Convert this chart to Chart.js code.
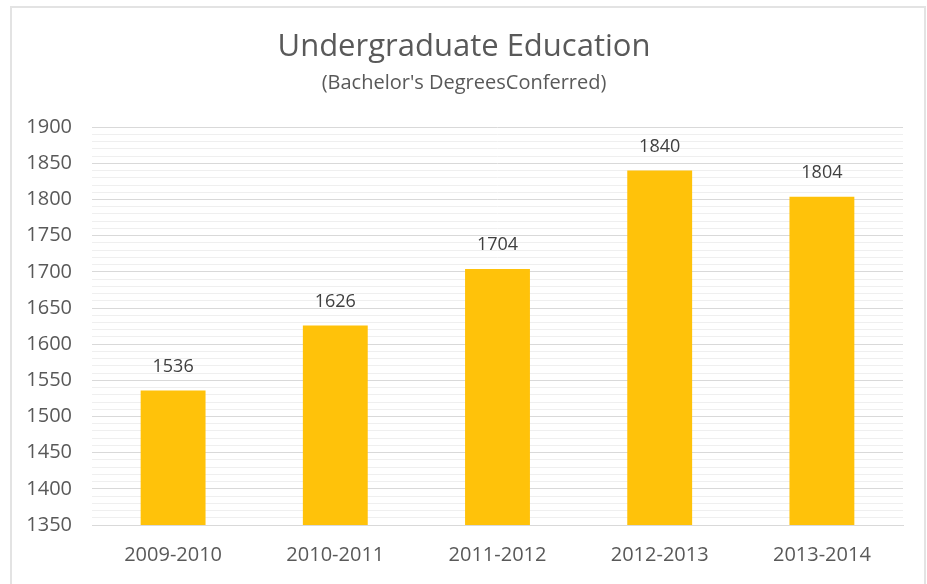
<!DOCTYPE html>
<html>
<head>
<meta charset="utf-8">
<script src="https://cdn.jsdelivr.net/npm/chart.js@4/dist/chart.umd.min.js"></script>
<style>
    html, body { margin: 0; padding: 0; background: #ffffff; }
    #wrap { position: relative; width: 927px; height: 584px; overflow: hidden; }
    #frame {
        position: absolute; left: 10px; top: 6px; width: 916px; height: 600px;
        border: 2px solid #e3e3e3; box-sizing: border-box;
    }
    #chart { position: absolute; left: 0; top: 0; }
</style>
</head>
<body>
<div id="wrap">
    <div id="frame"></div>
    <canvas id="chart" width="927" height="584"></canvas>
</div>
<script>
const years = ['2009-2010', '2010-2011', '2011-2012', '2012-2013', '2013-2014'];
const degrees = [1536, 1626, 1704, 1840, 1804];
const yMin = 1350;
const yMax = 1900;

const fontFamily = "'Open Sans', 'Liberation Sans', sans-serif";

// Draw the numbers above each bar
const valueLabels = {
    id: 'valueLabels',
    afterDatasetsDraw(chart) {
        const ctx = chart.ctx;
        const meta = chart.getDatasetMeta(0);
        ctx.save();
        ctx.fillStyle = '#404040';
        ctx.font = '18px ' + fontFamily;
        ctx.textAlign = 'center';
        ctx.textBaseline = 'middle';
        meta.data.forEach((bar, i) => {
            ctx.fillText(String(degrees[i]), bar.x, bar.y - 24);
        });
        ctx.restore();
    }
};

const ctx = document.getElementById('chart').getContext('2d');

const chart = new Chart(ctx, {
    type: 'bar',
    data: {
        labels: years,
        datasets: [{
            label: "Bachelor's Degrees Conferred",
            data: degrees,
            backgroundColor: '#FFC20A',
            borderWidth: 0,
            barPercentage: 0.4,
            categoryPercentage: 1.0
        }]
    },
    options: {
        responsive: false,
        animation: false,
        layout: {
            padding: { left: 25, right: 24, top: 0, bottom: 0 }
        },
        scales: {
            x: {
                grid: { display: false },
                border: { display: true, color: '#d9d9d9', width: 1 },
                ticks: {
                    color: '#595959',
                    font: { size: 20, family: fontFamily },
                    padding: 10,
                    maxRotation: 0
                },
                afterFit(scale) {
                    scale.height = 59;
                }
            },
            y: {
                min: yMin,
                max: yMax,
                border: { display: false },
                grid: {
                    drawTicks: false,
                    color: (c) => (c.tick && c.tick.value % 50 === 0) ? '#d9d9d9' : '#efefef',
                    lineWidth: 1
                },
                ticks: {
                    stepSize: 10,
                    autoSkip: false,
                    color: '#595959',
                    font: { size: 20, family: fontFamily },
                    padding: 20,
                    callback: (value) => value % 50 === 0 ? String(value) : ''
                },
                afterFit(scale) {
                    scale.width = 67;
                }
            }
        },
        plugins: {
            legend: { display: false },
            tooltip: { enabled: false },
            title: {
                display: true,
                text: 'Undergraduate Education',
                color: '#595959',
                font: { size: 31, weight: 'normal', family: fontFamily },
                padding: { top: 29, bottom: 5 }
            },
            subtitle: {
                display: true,
                text: "(Bachelor's DegreesConferred)",
                color: '#595959',
                font: { size: 20, family: fontFamily },
                padding: { top: 0, bottom: 32 }
            }
        }
    },
    plugins: [valueLabels]
});
</script>
</body>
</html>
